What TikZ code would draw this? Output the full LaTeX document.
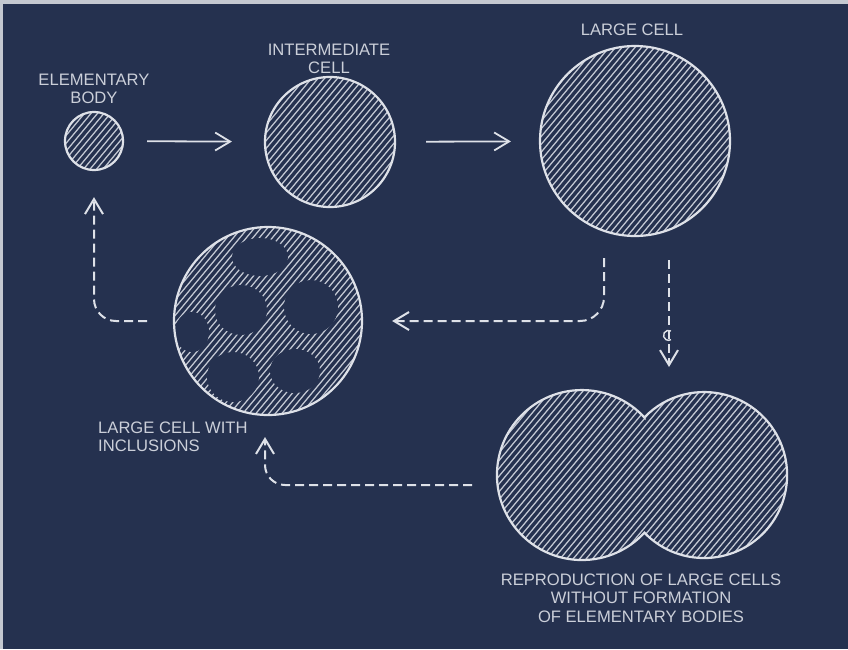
\documentclass[tikz,border=0pt]{standalone}
\usepackage{fontspec}
\setmainfont{Liberation Sans}
\usetikzlibrary{arrows.meta,calc}

\definecolor{board}{RGB}{37,49,79}
\definecolor{chalk}{RGB}{222,225,232}
\definecolor{hatchgrey}{RGB}{196,201,212}
\definecolor{edge}{RGB}{196,200,208}

% diagonal hatching inside a cell
\newcommand{\hatchcell}{%
	\foreach \k in {-260,-253.5,...,260}
		\draw [hatch] ($(path picture bounding box.center)+(\k-200,240)$) -- ++(400,-480);%
}
% dark inclusion, offset from the cell centre, x and y radius
\newcommand{\inclusion}[4]{%
	\fill [board] ($(path picture bounding box.center)+(#1,#2)$) ellipse [x radius=#3, y radius=#4];%
}

\tikzset{
	hatch/.style={draw=hatchgrey, line width=1.25pt},
	cell/.style={circle, draw=chalk, line width=2.2pt, inner sep=0pt, minimum size=#1, path picture={\hatchcell}},
	caption/.style={text=chalk!90!board, font=\fontsize{16.6}{18.5}\selectfont, align=center, inner sep=0pt},
	growth/.style={draw=chalk, line width=1.8pt, -{Straight Barb[length=15pt, width=18pt]}},
	flow/.style={growth, line width=2pt, dash pattern=on 9pt off 5pt},
}

\begin{document}
\begin{tikzpicture}[x=1pt, y=-1pt]
	\useasboundingbox (0,0) rectangle (848,649);
	\fill [edge] (0,0) rectangle (848,649);
	\fill [board] (3,4) rectangle (848,649);

	% growth cycle
	\node [cell=58] (eb) at (94,141) {};
	\node [cell=130] (ic) at (330,142) {};
	\node [cell=190] (lc) at (635,141) {};
	\node [circle, draw=chalk, line width=2.2pt, inner sep=0pt, minimum size=188,
		path picture={\hatchcell
			\inclusion{-8}{-64}{28}{19}
			\inclusion{-27}{-11}{26}{25}
			\inclusion{43}{-14}{27}{27}
			\inclusion{27}{50}{25}{22}
			\inclusion{-35}{56}{26}{25}
			\inclusion{-76}{11}{17}{20}}] (inc) at (268,321) {};

	% dividing pair
	\coordinate (pair) at (643,475);
	\begin{scope}
		\clip (582,475) circle [radius=85] (704,475) circle [radius=83];
		\foreach \k in {-260,-253.5,...,260}
			\draw [hatch] ($(pair)+(\k-200,240)$) -- ++(400,-480);
	\end{scope}
	\draw [chalk, line width=2.2pt] (644.4,417.4) arc [start angle=317.3, end angle=42.7, radius=85]
		arc [start angle=136, end angle=-136, radius=83] -- cycle;

	\node [caption] (ebName) at (94,89) {ELEMENTARY\\BODY};
	\node [caption] (icName) at (329,59) {INTERMEDIATE\\CELL};
	\node [caption] (lcName) at (632,30) {LARGE CELL};
	\node [caption, align=left, anchor=west] (incName) at (98,437) {LARGE CELL WITH\\INCLUSIONS};
	\node [caption] (pairName) at (641,598) {REPRODUCTION OF LARGE CELLS\\WITHOUT FORMATION\\OF ELEMENTARY BODIES};

	\draw [growth, shorten <=23pt, shorten >=32pt] (eb) -- (ic);
	\draw [growth, shorten <=30pt, shorten >=28pt] (ic) -- (lc);

	\coordinate (d1) at (604,258);
	\draw [flow, rounded corners=24pt, shorten >=29pt] (d1) |- (inc.east);
	\coordinate (d2) at (669,260);
	\coordinate (d2end) at (669,367);
	\draw [flow] (d2) -- (d2end);
	\draw [chalk, line width=1.4pt] (671,331) arc [start angle=-60, end angle=-300, radius=5];
	\coordinate (d3) at (472,485);
	\coordinate (d3end) at (265,437);
	\draw [flow, rounded corners=20pt] (d3) -| (d3end);
	\coordinate (d4) at (147,321);
	\draw [flow, rounded corners=22pt, shorten >=26pt] (d4) -| (eb.south);
\end{tikzpicture}
\end{document}
